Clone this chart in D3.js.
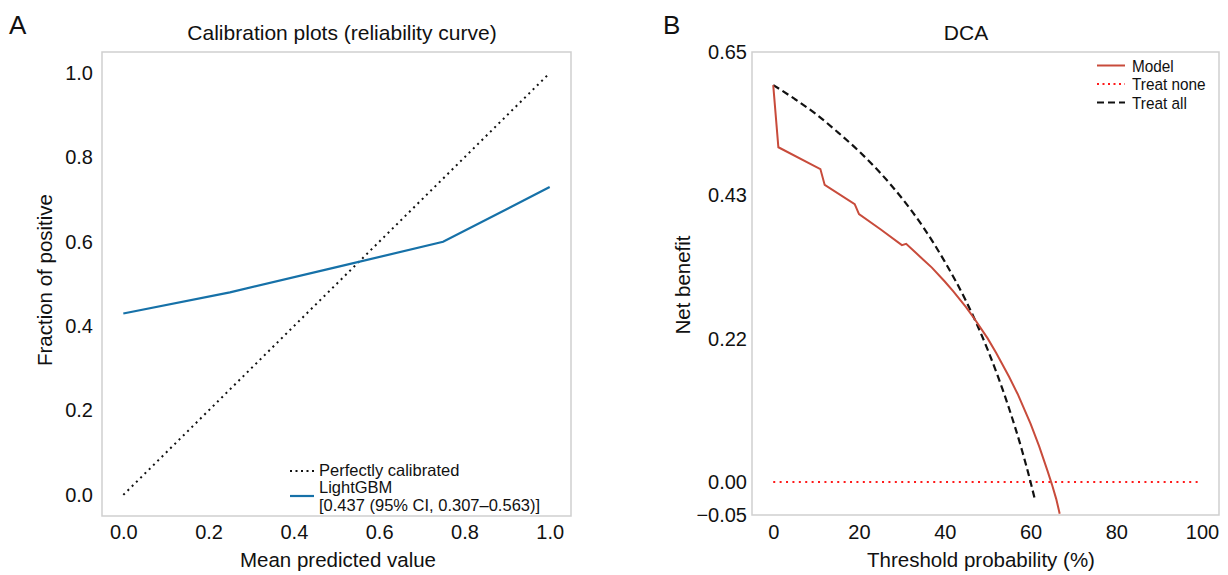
<!DOCTYPE html>
<html lang="en">
<head>
  <meta charset="UTF-8">
  <title>Calibration and DCA</title>
  <style>
    body { margin: 0; background: #fff; }
    svg text { font-family: "Liberation Sans", Arial, Helvetica, sans-serif; fill: #111; }
  </style>
</head>
<body>
  <svg id="svg" width="1228" height="575"></svg>

  <script src="https://d3js.org/d3.v7.min.js"></script>
  <script>
    // panel A data (calibration curve)
    const calibX = [0.0, 0.25, 0.5, 0.75, 1.0]
    const calibY = [0.43, 0.48, 0.54, 0.60, 0.73]
    const diagX = [0, 1]
    const diagY = [0, 1]
    const calibTicks = [0.0, 0.2, 0.4, 0.6, 0.8, 1.0]

    // panel B data (decision curve)
    const modelT = [0, 1.2, 11, 12, 19, 20, 25, 30, 31, 33, 35, 37, 40, 42, 45, 47, 50, 52, 55, 57, 60, 62, 64, 65, 66, 66.8]
    const modelNB = [0.600, 0.506, 0.473, 0.449, 0.420, 0.405, 0.382, 0.358, 0.360, 0.348, 0.336, 0.324, 0.303, 0.288, 0.264, 0.246, 0.217, 0.195, 0.159, 0.133, 0.088, 0.054, 0.016, -0.004, -0.026, -0.048]
    const allT = [0, 5, 10, 15, 20, 25, 30, 35, 40, 45, 50, 55, 58, 60, 61]
    const allNB = [0.600, 0.579, 0.556, 0.529, 0.500, 0.467, 0.429, 0.385, 0.333, 0.273, 0.200, 0.111, 0.048, 0.000, -0.026]
    const noneT = [0, 99]
    const noneNB = [0, 0]
    const dcaXTicks = [0, 20, 40, 60, 80, 100]
    const dcaYTicks = [-0.05, 0, 0.65 / 3, 1.3 / 3, 0.65]

    const svg = d3.select('#svg')

    function frame(x0, y0, x1, y1) {
      svg.append('rect')
        .attr('x', x0).attr('y', y0)
        .attr('width', x1 - x0).attr('height', y1 - y0)
        .attr('fill', 'none')
        .attr('stroke', '#cfcfcf')
        .attr('stroke-width', 1.5)
    }

    function styleAxis(g) {
      g.select('.domain').remove()
      g.attr('font-family', null).attr('font-size', null)
      g.selectAll('text').style('font-size', '20px').style('fill', '#111')
    }

    // ---------- Panel A ----------
    const ax = { left: 102, right: 571, top: 52, bottom: 516 }
    const xA = d3.scaleLinear().domain([-0.05, 1.05]).range([ax.left, ax.right])
    const yA = d3.scaleLinear().domain([-0.05, 1.05]).range([ax.bottom, ax.top])

    frame(ax.left, ax.top, ax.right, ax.bottom)

    svg.append('g')
      .attr('transform', `translate(0, ${ax.bottom})`)
      .call(d3.axisBottom(xA).tickValues(calibTicks).tickSize(0).tickPadding(9).tickFormat(d3.format('.1f')))
      .call(styleAxis)

    svg.append('g')
      .attr('transform', `translate(${ax.left}, 0)`)
      .call(d3.axisLeft(yA).tickValues(calibTicks).tickSize(0).tickPadding(9).tickFormat(d3.format('.1f')))
      .call(styleAxis)

    const lineA = d3.line().x(d => xA(d[0])).y(d => yA(d[1]))

    svg.append('path')
      .datum(d3.zip(diagX, diagY))
      .attr('d', lineA)
      .attr('fill', 'none')
      .attr('stroke', '#111')
      .attr('stroke-width', 2)
      .attr('stroke-dasharray', '2 4')

    svg.append('path')
      .datum(d3.zip(calibX, calibY))
      .attr('d', lineA)
      .attr('fill', 'none')
      .attr('stroke', '#1671a8')
      .attr('stroke-width', 2.2)

    svg.append('text').attr('x', 342).attr('y', 40)
      .attr('text-anchor', 'middle').style('font-size', '21px')
      .text('Calibration plots (reliability curve)')
    svg.append('text').attr('x', 338).attr('y', 567)
      .attr('text-anchor', 'middle').style('font-size', '20.5px')
      .text('Mean predicted value')
    svg.append('text')
      .attr('transform', 'translate(52, 280) rotate(-90)')
      .attr('text-anchor', 'middle').style('font-size', '20.5px')
      .text('Fraction of positive')
    svg.append('text').attr('x', 9).attr('y', 34).style('font-size', '26px').text('A')

    // legend A
    svg.append('line').attr('x1', 290).attr('x2', 314).attr('y1', 471).attr('y2', 471)
      .attr('stroke', '#111').attr('stroke-width', 2).attr('stroke-dasharray', '2 3.5')
    svg.append('line').attr('x1', 290).attr('x2', 314).attr('y1', 496).attr('y2', 496)
      .attr('stroke', '#1671a8').attr('stroke-width', 2.2)
    const legA = [['Perfectly calibrated', 476], ['LightGBM', 493], ['[0.437 (95% CI, 0.307\u20130.563)]', 511]]
    legA.forEach(([t, y]) => {
      svg.append('text').attr('x', 319).attr('y', y).style('font-size', '16.5px').text(t)
    })

    // ---------- Panel B ----------
    const bx = { left: 752, right: 1219, top: 52, bottom: 515 }
    const xB = d3.scaleLinear().domain([-4.95, 103.95]).range([bx.left, bx.right])
    const yB = d3.scaleLinear().domain([-0.05, 0.65]).range([bx.bottom, bx.top])

    frame(bx.left, bx.top, bx.right, bx.bottom)

    svg.append('g')
      .attr('transform', `translate(0, ${bx.bottom})`)
      .call(d3.axisBottom(xB).tickValues(dcaXTicks).tickSize(0).tickPadding(10).tickFormat(d3.format('d')))
      .call(styleAxis)

    svg.append('g')
      .attr('transform', `translate(${bx.left}, 0)`)
      .call(d3.axisLeft(yB).tickValues(dcaYTicks).tickSize(0).tickPadding(5).tickFormat(d3.format('.2f')))
      .call(styleAxis)

    const lineB = d3.line().x(d => xB(d[0])).y(d => yB(d[1]))

    svg.append('path')
      .datum(d3.zip(noneT, noneNB))
      .attr('d', lineB)
      .attr('fill', 'none')
      .attr('stroke', '#ff1a1a')
      .attr('stroke-width', 2)
      .attr('stroke-dasharray', '2 4.4')

    svg.append('path')
      .datum(d3.zip(allT, allNB))
      .attr('d', d3.line().curve(d3.curveMonotoneX).x(d => xB(d[0])).y(d => yB(d[1])))
      .attr('fill', 'none')
      .attr('stroke', '#111')
      .attr('stroke-width', 2.2)
      .attr('stroke-dasharray', '7 4')

    svg.append('path')
      .datum(d3.zip(modelT, modelNB))
      .attr('d', lineB)
      .attr('fill', 'none')
      .attr('stroke', '#c84b3b')
      .attr('stroke-width', 2)

    svg.append('text').attr('x', 966).attr('y', 40)
      .attr('text-anchor', 'middle').style('font-size', '21px').text('DCA')
    svg.append('text').attr('x', 981).attr('y', 567)
      .attr('text-anchor', 'middle').style('font-size', '20.5px').text('Threshold probability (%)')
    svg.append('text')
      .attr('transform', 'translate(690, 285) rotate(-90)')
      .attr('text-anchor', 'middle').style('font-size', '20.5px').text('Net benefit')
    svg.append('text').attr('x', 663).attr('y', 34).style('font-size', '26px').text('B')

    // legend B (slightly condensed text)
    const legB = [
      ['Model', '#c84b3b', null, 65.5],
      ['Treat none', '#ff1a1a', '2 3.5', 84],
      ['Treat all', '#111', '7 4', 102.5]
    ]
    legB.forEach(([t, c, dash, y]) => {
      svg.append('line').attr('x1', 1097).attr('x2', 1125).attr('y1', y).attr('y2', y)
        .attr('stroke', c).attr('stroke-width', 2).attr('stroke-dasharray', dash)
      svg.append('text')
        .attr('transform', `translate(1132, ${y + 6}) scale(0.93, 1)`)
        .style('font-size', '16.5px').text(t)
    })
  </script>
</body>
</html>
